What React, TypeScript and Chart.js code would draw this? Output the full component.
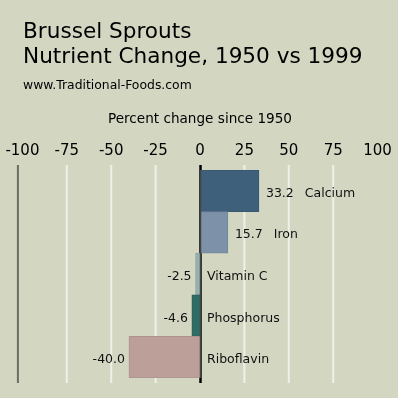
import React, { useEffect, useRef } from "react";
import { Chart, registerables } from "chart.js";

Chart.register(...registerables);

const TITLE_LINES = ["Brussel Sprouts", "Nutrient Change, 1950 vs 1999"];
const SOURCE = "www.Traditional-Foods.com";
const AXIS_TITLE = "Percent change since 1950";
const NUTRIENTS = ["Calcium", "Iron", "Vitamin C", "Phosphorus", "Riboflavin"];
const CHANGES = [33.2, 15.7, -2.5, -4.6, -40.0];
const BAR_COLORS = ["#3f607b", "#7d91a9", "#96b2ae", "#2f6d64", "#bd9f9a"];
const BORDER_COLORS = ["#39576f", "#72859b", "#89a39f", "#2a625a", "#ae928d"];
const TICKS = [-100, -75, -50, -25, 0, 25, 50, 75, 100];
const TICK_LABELS = ["-100", "-75", "-50", "-25", "0", "25", "50", "75", "100"];

const BG = "#d3d7c2";
const FONT = "'DejaVu Sans', sans-serif";

const decorPlugin = {
  id: "decor",
  beforeDraw(chart: any) {
    const { ctx, width, height } = chart;
    ctx.save();
    ctx.fillStyle = BG;
    ctx.fillRect(0, 0, width, height);
    ctx.restore();
  },
  beforeDatasetsDraw(chart: any) {
    const { ctx, chartArea } = chart;
    const x = chart.scales.x;
    const top = chartArea.top - 5;
    const bottom = chartArea.bottom + 5;
    ctx.save();
    TICKS.forEach((t) => {
      const px = x.getPixelForValue(t);
      if (t === -100) {
        ctx.strokeStyle = "#6a6d5f";
        ctx.lineWidth = 2;
        ctx.beginPath();
        ctx.moveTo(px - 4.5, top);
        ctx.lineTo(px - 4.5, bottom);
        ctx.stroke();
      } else if (t === 0) {
        ctx.strokeStyle = "#000";
        ctx.lineWidth = 2.5;
        ctx.beginPath();
        ctx.moveTo(px + 0.5, top);
        ctx.lineTo(px + 0.5, bottom);
        ctx.stroke();
      } else if (t !== 100) {
        ctx.strokeStyle = "#f0f0e8";
        ctx.lineWidth = 2;
        ctx.beginPath();
        ctx.moveTo(px, top);
        ctx.lineTo(px, bottom);
        ctx.stroke();
      }
    });
    ctx.restore();
  },
  afterDatasetsDraw(chart: any) {
    const { ctx, chartArea } = chart;
    const x = chart.scales.x;
    const y = chart.scales.y;
    const zero = x.getPixelForValue(0);
    ctx.save();
    // zero line through the bars
    ctx.strokeStyle = "#454545";
    ctx.lineWidth = 1.5;
    ctx.beginPath();
    ctx.moveTo(zero + 0.5, chartArea.top);
    ctx.lineTo(zero + 0.5, chartArea.bottom);
    ctx.stroke();

    // bar labels
    ctx.fillStyle = "#111";
    ctx.font = `12.5px ${FONT}`;
    ctx.textBaseline = "alphabetic";
    CHANGES.forEach((v, i) => {
      const yc = y.getPixelForValue(i) + 6;
      const end = x.getPixelForValue(v);
      const valText = v.toFixed(1);
      if (v >= 0) {
        ctx.textAlign = "left";
        const vx = end + 7;
        ctx.fillText(valText, vx, yc);
        const w = ctx.measureText(valText).width;
        ctx.fillText(NUTRIENTS[i], vx + w + 11, yc);
      } else {
        ctx.textAlign = "right";
        ctx.fillText(valText, end - 4, yc);
        ctx.textAlign = "left";
        ctx.fillText(NUTRIENTS[i], zero + 7, yc);
      }
    });

    // tick labels
    ctx.fillStyle = "#000";
    ctx.font = `15px ${FONT}`;
    ctx.textAlign = "center";
    TICKS.forEach((t, i) => {
      ctx.fillText(TICK_LABELS[i], x.getPixelForValue(t), 155);
    });

    // axis title
    ctx.font = `13.6px ${FONT}`;
    ctx.fillText(AXIS_TITLE, (chartArea.left + chartArea.right) / 2, 123);

    // titles
    ctx.textAlign = "left";
    ctx.font = `21.6px ${FONT}`;
    ctx.fillText(TITLE_LINES[0], 23, 38);
    ctx.fillText(TITLE_LINES[1], 23, 63);
    ctx.font = `12.4px ${FONT}`;
    ctx.fillText(SOURCE, 23, 89);
    ctx.restore();
  },
};

export default function App() {
  const ref = useRef<HTMLCanvasElement | null>(null);
  useEffect(() => {
    document.body.style.margin = "0";
    document.body.style.background = BG;
    const canvas = ref.current;
    if (!canvas) return;
    const chart = new Chart(canvas, {
      type: "bar",
      data: {
        labels: NUTRIENTS,
        datasets: [
          {
            data: CHANGES,
            backgroundColor: BAR_COLORS,
            borderColor: BORDER_COLORS,
            borderWidth: 1,
            barPercentage: 1,
            categoryPercentage: 1,
          },
        ],
      },
      options: {
        indexAxis: "y",
        responsive: false,
        animation: false,
        devicePixelRatio: 1,
        layout: { padding: { left: 22.4, right: 20.4, top: 170, bottom: 20 } },
        plugins: {
          legend: { display: false },
          tooltip: { enabled: false },
          title: { display: false },
        },
        scales: {
          x: { type: "linear", min: -100, max: 100, display: false },
          y: { type: "category", display: false, offset: true },
        },
      },
      plugins: [decorPlugin],
    });
    return () => chart.destroy();
  }, []);
  return (
    <div style={{ position: "absolute", left: 0, top: 0, width: 398, height: 398 }}>
      <canvas ref={ref} width={398} height={398} style={{ width: 398, height: 398 }} />
    </div>
  );
}
